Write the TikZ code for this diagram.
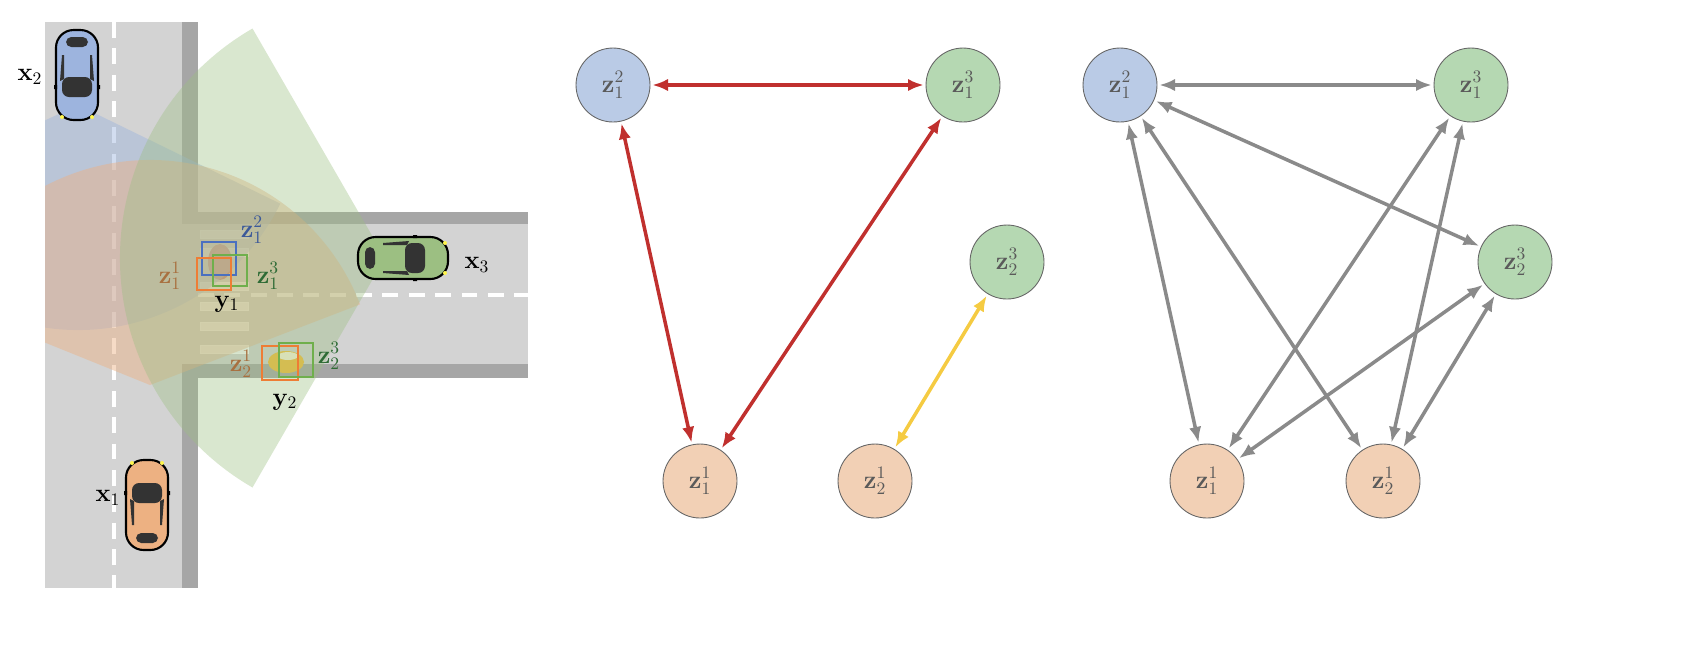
\documentclass[tikz,border=0pt]{standalone}
\usetikzlibrary{arrows.meta}
\definecolor{road}{HTML}{D3D3D3}
\definecolor{curb}{HTML}{A6A6A6}
\definecolor{nblue}{HTML}{BACBE6}
\definecolor{ngreen}{HTML}{B5D8B2}
\definecolor{norange}{HTML}{F2D0B5}
\definecolor{tgray}{HTML}{5A5A5A}
\definecolor{ered}{HTML}{C0302E}
\definecolor{eyel}{HTML}{F5CB42}
\definecolor{egray}{HTML}{8A8A8A}
\definecolor{lblue}{HTML}{3D5A99}
\definecolor{lbrown}{HTML}{A87040}
\definecolor{lgreen}{HTML}{2E6B35}
\definecolor{bxorange}{HTML}{EE7D35}
\definecolor{bxgreen}{HTML}{6FAF4C}
\definecolor{bxblue}{HTML}{4A70C0}
\definecolor{carblue}{HTML}{9DB4DE}
\definecolor{carorange}{HTML}{EDB182}
\definecolor{cargreen}{HTML}{9CBF82}
\newcommand\mycar[3]{%
\begin{scope}[shift={#1},rotate=#2]
\draw[line width=1.2pt,fill=#3,rounded corners=10] (-21,-45) rectangle (21,45);
\fill[black!80,rounded corners=4] (-15,-22) rectangle (15,-2);
\fill[black!80,rounded corners=3] (-11,28) rectangle (11,38);
\fill[black!80] (-17,-6) -- (-15,20) -- (-13,20) -- (-13,-4) -- cycle;
\fill[black!80] (17,-6) -- (15,20) -- (13,20) -- (13,-4) -- cycle;
\fill[yellow!70] (-15,-42) circle (2) (15,-42) circle (2);
\fill[black] (-23,-14) rectangle (-20,-10) (20,-14) rectangle (23,-10);
\end{scope}}
\tikzset{
 gnode/.style={circle,draw=black!60,line width=0.5pt,minimum size=1.48cm,inner sep=0pt,text=tgray,font=\Large},
 edge/.style={line width=2pt,{Latex[length=9pt,width=7pt]}-{Latex[length=9pt,width=7pt]},shorten <=1pt,shorten >=1pt},
 lbl/.style={font=\Large},
}
\begin{document}
\begin{tikzpicture}[x=0.02cm,y=-0.02cm]
% roads
\fill[road] (45,22) rectangle (198,588);
\fill[road] (182,212) rectangle (528,378);
\fill[curb] (182,22) rectangle (198,224);
\fill[curb] (182,364) rectangle (198,588);
\fill[curb] (198,212) rectangle (528,224);
\fill[curb] (182,364) rectangle (528,378);
\fill[road] (182,224) rectangle (198,364);
% crosswalk
\foreach \yy in {230,248,282,302,322,345}{
 \fill[white!85!road,draw=white,line width=0.4pt] (200,\yy) rectangle (248,\yy+8);}
\draw[white,line width=2pt,dash pattern=on 9pt off 6pt] (114,22) -- (114,588);
\draw[white,line width=2pt,dash pattern=on 9pt off 6pt] (198,295) -- (528,295);
% pedestrians
\fill[red!60!black!60!white] (220,262) ellipse (12 and 18);
\fill[ered!70] (222,262) ellipse (10 and 14);
\fill[eyel!80!orange] (286,362) ellipse (18 and 11);
\fill[white!80!eyel] (288,356) ellipse (10 and 4);
% sectors
\begin{scope}
\clip (45,0) rectangle (700,664);
\fill[carblue,opacity=0.45] (78,105) -- ++(155:225) arc[start angle=155,end angle=26,radius=225] -- cycle;
\fill[carorange,opacity=0.45] (150,385) -- ++(202:225) arc[start angle=202,end angle=339,radius=225] -- cycle;
\end{scope}
\fill[cargreen,opacity=0.38] (385,258) -- ++(240:265) arc[start angle=240,end angle=120,radius=265] -- cycle;
% boxes
\draw[bxblue,line width=1.3pt] (202,242) rectangle (236,275);
\draw[bxgreen,line width=1.3pt] (213,255) rectangle (247,286);
\draw[bxorange,line width=1.3pt] (197,258) rectangle (231,290);
\draw[bxorange,line width=1.3pt] (262,346) rectangle (298,380);
\draw[bxgreen,line width=1.3pt] (279,343) rectangle (313,377);
% cars
\mycar{(77,75)}{180}{carblue}
\mycar{(147,505)}{0}{carorange}
\mycar{(403,258)}{-90}{cargreen}
% labels
\node[lbl,text=lblue] (lz12) at (252,230) {$\mathbf{z}_1^2$};
\node[lbl,text=lbrown] (lz11) at (170,276) {$\mathbf{z}_1^1$};
\node[lbl,text=lgreen] (lz13) at (268,276) {$\mathbf{z}_1^3$};
\node[lbl] (ly1) at (227,304) {$\mathbf{y}_1$};
\node[lbl,text=lbrown] (lz21) at (241,364) {$\mathbf{z}_2^1$};
\node[lbl,text=lgreen] (lz23) at (329,356) {$\mathbf{z}_2^3$};
\node[lbl] (ly2) at (285,402) {$\mathbf{y}_2$};
\node[lbl] (lx2) at (30,77) {$\mathbf{x}_2$};
\node[lbl] (lx1) at (108,498) {$\mathbf{x}_1$};
\node[lbl] (lx3) at (477,265) {$\mathbf{x}_3$};
% middle graph
\node[gnode,fill=nblue] (a12) at (613,85) {$\mathbf{z}_1^2$};
\node[gnode,fill=ngreen] (a13) at (963,85) {$\mathbf{z}_1^3$};
\node[gnode,fill=ngreen] (a23) at (1007,262) {$\mathbf{z}_2^3$};
\node[gnode,fill=norange] (a11) at (700,481) {$\mathbf{z}_1^1$};
\node[gnode,fill=norange] (a21) at (875,481) {$\mathbf{z}_2^1$};
\draw[edge,ered] (a12) -- (a13);
\draw[edge,ered] (a12) -- (a11);
\draw[edge,ered] (a13) -- (a11);
\draw[edge,eyel] (a23) -- (a21);
% right graph
\node[gnode,fill=nblue] (b12) at (1120,85) {$\mathbf{z}_1^2$};
\node[gnode,fill=ngreen] (b13) at (1471,85) {$\mathbf{z}_1^3$};
\node[gnode,fill=ngreen] (b23) at (1515,262) {$\mathbf{z}_2^3$};
\node[gnode,fill=norange] (b11) at (1207,481) {$\mathbf{z}_1^1$};
\node[gnode,fill=norange] (b21) at (1383,481) {$\mathbf{z}_2^1$};
\foreach \a/\b in {b12/b13,b12/b23,b12/b11,b12/b21,b13/b11,b13/b21,b23/b11,b23/b21}
 \draw[edge,egray] (\a) -- (\b);
\pgfresetboundingbox
\useasboundingbox (0,0) rectangle (1702,664);
\end{tikzpicture}
\end{document}
